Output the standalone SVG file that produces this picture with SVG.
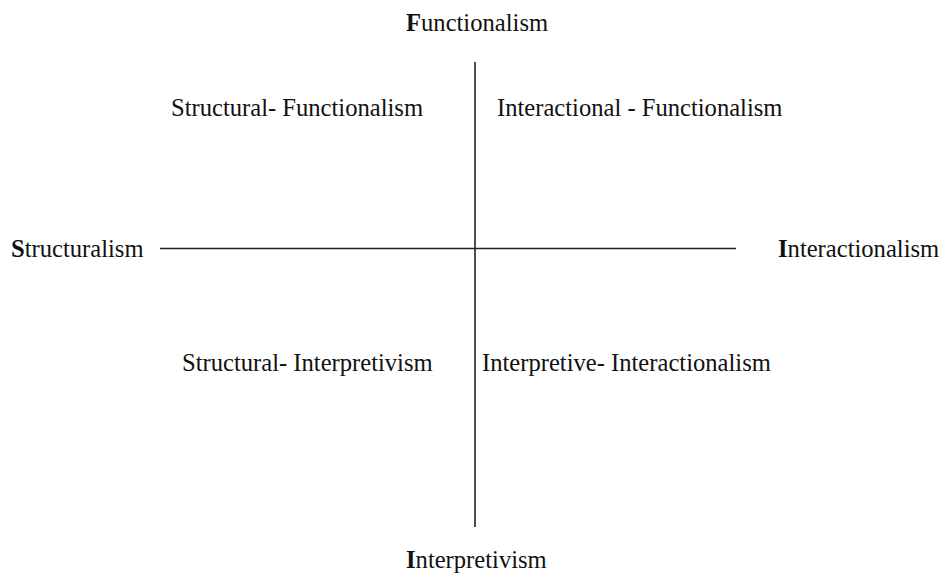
<svg xmlns="http://www.w3.org/2000/svg" width="942" height="574" viewBox="0 0 942 574">
<style>
  text { font-family: "Liberation Serif", "Times New Roman", serif; font-size: 24.6px; fill: #111; }
  .axis { stroke: #222; stroke-width: 1.6; }
  .b { font-weight: bold; }
</style>
<rect width="942" height="574" fill="#fff"/>
<g id="connectors">
  <line class="axis" x1="475" y1="62" x2="475" y2="527"/>
  <line class="axis" x1="160" y1="248.5" x2="736" y2="248.5"/>
</g>
<g id="functionalism"><text x="406" y="31"><tspan class="b">F</tspan>unctionalism</text></g>
<g id="structuralism"><text x="11" y="257"><tspan class="b">S</tspan>tructuralism</text></g>
<g id="interactionalism"><text x="778" y="257"><tspan class="b">I</tspan>nteractionalism</text></g>
<g id="interpretivism"><text x="406" y="568"><tspan class="b">I</tspan>nterpretivism</text></g>
<g id="structural-functionalism"><text x="171" y="116">Structural- Functionalism</text></g>
<g id="interactional-functionalism"><text x="497" y="116">Interactional - Functionalism</text></g>
<g id="structural-interpretivism"><text x="182" y="371">Structural- Interpretivism</text></g>
<g id="interpretive-interactionalism"><text x="482" y="371">Interpretive- Interactionalism</text></g>
</svg>
